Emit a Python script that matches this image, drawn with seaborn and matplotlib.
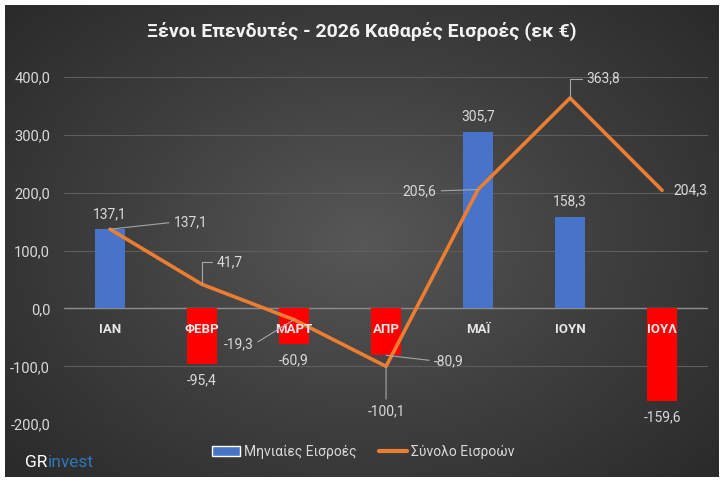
import numpy as np
import matplotlib
matplotlib.use("Agg")
import matplotlib.pyplot as plt
import matplotlib.ticker as mticker
from matplotlib.patches import Patch
from matplotlib.lines import Line2D
import seaborn as sns

# ----------------------------------------------------------------------
# Data (εκ €)
# ----------------------------------------------------------------------
months = ['ΙΑΝ', 'ΦΕΒΡ', 'ΜΑΡΤ', 'ΑΠΡ', 'ΜΑΪ', 'ΙΟΥΝ', 'ΙΟΥΛ']
monthly = [137.1, -95.4, -60.9, -80.9, 305.7, 158.3, -159.6]
cumulative = [137.1, 41.7, -19.3, -100.1, 205.6, 363.8, 204.3]

title = 'Ξένοι Επενδυτές - 2026 Καθαρές Εισροές (εκ €)'
bar_name = 'Μηνιαίες Εισροές'
line_name = 'Σύνολο Εισροών'

BLUE = '#4774c8'
RED = '#ff0000'
ORANGE = '#ed7d31'
TXT = '#d9d9d9'

# label centre offsets in points (dx, dy), leader anchor on the text box, bent leader
bar_offsets = [(0, 11, None, False), (0, -12, None, False), (0, -12, None, False),
               (45, -4, (0, 0.5), False), (0, 11, None, False),
               (0, 11, None, False), (0, -12, None, False)]
line_offsets = [(58, 5, (0, 0.5), False), (20, 16, (0, 0.5), True),
                (-40, -18, (1, 0.5), False), (0, -32, (0.5, 1), False),
                (-42, -1, (1, 0.5), False), (24, 14, (0, 0.5), True),
                (20, 0, None, False)]


def fmt(v):
    return f'{v:.1f}'.replace('.', ',')


sns.set_theme(style='white')
plt.rcParams['font.family'] = ['Roboto', 'DejaVu Sans']

fig = plt.figure(figsize=(7.24, 4.82), dpi=100)
fig.patch.set_facecolor('white')

# dark radial background
bg = fig.add_axes([0.0069, 0.0104, 0.985, 0.979])
yy, xx = np.mgrid[-1:1:300j, -1:1:450j]
r = np.sqrt(xx ** 2 + (yy * 0.9) ** 2)
bg.imshow(r, cmap=matplotlib.colors.LinearSegmentedColormap.from_list(
    'bg', ['#575757', '#3f3f3f', '#2a2a2a']), vmin=0, vmax=1.35,
    aspect='auto', extent=(0, 1, 0, 1))
bg.set_axis_off()

ax = fig.add_axes([0.0884, 0.120, 0.8896, 0.720])
ax.set_facecolor('none')

colors = [BLUE if v >= 0 else RED for v in monthly]
sns.barplot(x=months, y=monthly, hue=months, palette=colors, legend=False,
            width=0.32, saturation=1, linewidth=0, ax=ax, zorder=2)
sns.lineplot(x=np.arange(len(months)), y=cumulative, color=ORANGE, lw=2.6,
             ax=ax, zorder=3)

ax.set_xlim(-0.5, len(months) - 0.5)
ax.set_ylim(-200, 400)
ax.yaxis.set_major_locator(mticker.MultipleLocator(100))
ax.yaxis.set_major_formatter(mticker.FuncFormatter(lambda v, p: fmt(v)))
ax.tick_params(axis='y', colors=TXT, labelsize=10.5, length=0, pad=10)
ax.tick_params(axis='x', length=0, labelbottom=False)
ax.grid(axis='y', color='#5e5e5e', lw=0.8, zorder=0)
ax.axhline(0, color='#8c8c8c', lw=1, zorder=1)
for s in ax.spines.values():
    s.set_visible(False)
ax.set_xlabel('')
ax.set_ylabel('')

# category names sitting on the zero line
for i, m in enumerate(months):
    ax.annotate(m, (i, 0), xytext=(0, -15), textcoords='offset points',
                ha='center', va='center', color='#e6e6e6', fontsize=9.5,
                fontweight='bold', zorder=5)


def put_label(x, y, text, off):
    dx, dy, rel, bent = off
    kw = {}
    if rel is not None:
        kw['arrowprops'] = dict(arrowstyle='-', color='#a6a6a6', lw=0.8,
                                shrinkA=1, shrinkB=0, relpos=rel)
        if bent:
            kw['arrowprops']['connectionstyle'] = 'angle,angleA=0,angleB=90,rad=0'
    ax.annotate(text, (x, y), xytext=(dx, dy), textcoords='offset points',
                ha='center', va='center', color=TXT, fontsize=10, zorder=6, **kw)


for i, v in enumerate(monthly):
    put_label(i, v, fmt(v), bar_offsets[i])
for i, v in enumerate(cumulative):
    put_label(i, v, fmt(v), line_offsets[i])

fig.text(0.5, 0.935, title, ha='center', va='center', color='#f2f2f2',
         fontsize=14, fontweight='bold')

handles = [Patch(facecolor=BLUE, label=bar_name),
           Line2D([], [], color=ORANGE, lw=3, label=line_name)]
fig.legend(handles=handles, loc='center', bbox_to_anchor=(0.502, 0.062),
           ncol=2, frameon=False, fontsize=10, labelcolor=TXT,
           handlelength=2.0, handletextpad=0.3, columnspacing=1.6)

gr = fig.text(0.035, 0.041, 'GR', color='white', fontsize=12.5, va='center')
ax.annotate('invest', xy=(1, 0.5), xycoords=gr, va='center', ha='left',
            color='#2e75b6', fontsize=12.5)

fig.savefig('out.png', dpi=100, facecolor='white')
